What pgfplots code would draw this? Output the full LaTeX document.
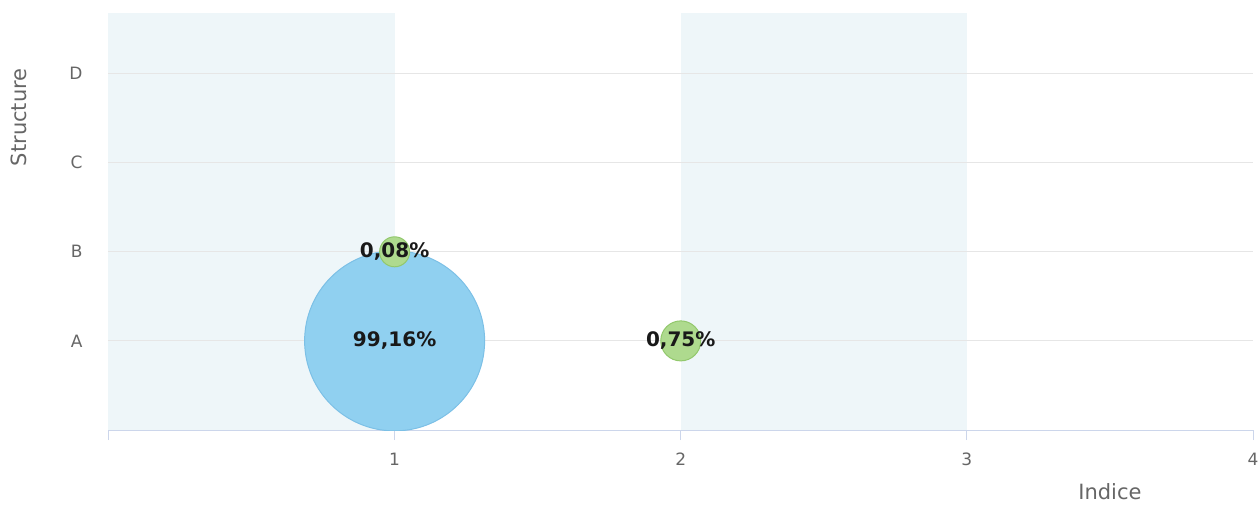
\documentclass[border=0pt]{standalone}
\usepackage{pgfplots}
\pgfplotsset{compat=1.18}
\usepackage{fontspec}
\setmainfont{DejaVu Sans}
\definecolor{bandcol}{HTML}{EEF6F9}
\definecolor{gridcol}{HTML}{E6E6E6}
\definecolor{axiscol}{HTML}{CCD6EB}
\definecolor{labcol}{HTML}{666666}
\definecolor{bluefill}{HTML}{90D0F0}
\definecolor{bluedraw}{HTML}{7CC0E6}
\definecolor{greenfill}{HTML}{AEDA8E}
\definecolor{greendraw}{HTML}{92C86C}
\begin{document}
\begin{tikzpicture}
\begin{axis}[
  set layers,
  at={(0,0)}, anchor=south west,
  scale only axis,
  width=572.25pt, height=208.5pt,
  xmin=0, xmax=4, ymin=-1, ymax=3.68,
  xtick={0,1,2,3,4}, xticklabels={,1,2,3,4},
  ytick={0,1,2,3}, yticklabels={A,B,C,D},
  axis x line*=bottom, axis y line*=left,
  separate axis lines,
  x axis line style={draw=axiscol, line width=0.5pt, -},
  y axis line style={draw=none},
  ymajorgrids,
  grid style={draw=gridcol, line width=0.5pt},
  xtick style={draw=axiscol, line width=0.5pt},
  ytick style={draw=none},
  tick align=outside,
  major tick length=5pt,
  /pgf/number format/assume math mode=true,
  tick label style={font=\fontsize{8.5}{10}\selectfont, text=labcol},
  xticklabel style={yshift=-3pt},
  yticklabel style={xshift=-4.5pt},
  xlabel={Indice}, ylabel={Structure},
  label style={font=\fontsize{10.5}{12}\selectfont, text=labcol},
  xlabel style={at={(rel axis cs:0.875,0)}, anchor=center, yshift=-31pt},
  ylabel style={at={(rel axis cs:0,0.75)}, anchor=center, yshift=45pt},
  clip marker paths=true,
  nodes near coords={\pgfplotspointmeta},
  point meta=explicit symbolic,
  every node near coord/.style={anchor=center, font=\bfseries\fontsize{10}{12}\selectfont, text=black!90},
]
\begin{pgfonlayer}{axis background}
\fill[bandcol] (axis cs:0,-1) rectangle (axis cs:1,3.68);
\fill[bandcol] (axis cs:2,-1) rectangle (axis cs:3,3.68);
\end{pgfonlayer}
\addplot[only marks, mark=*, mark size=45pt, mark options={fill=bluefill, draw=bluedraw, line width=0.5pt}]
  coordinates {(1,0) [99{,}16\%]};
\addplot[only marks, mark=*, mark size=7.5pt, mark options={fill=greenfill, draw=greendraw, line width=0.5pt}]
  coordinates {(1,1) [0{,}08\%]};
\addplot[only marks, mark=*, mark size=10pt, mark options={fill=greenfill, draw=greendraw, line width=0.5pt}]
  coordinates {(2,0) [0{,}75\%]};
\end{axis}
\pgfresetboundingbox
\path[use as bounding box] (-54.25pt,-37pt) rectangle (575.25pt,215pt);
\end{tikzpicture}
\end{document}
